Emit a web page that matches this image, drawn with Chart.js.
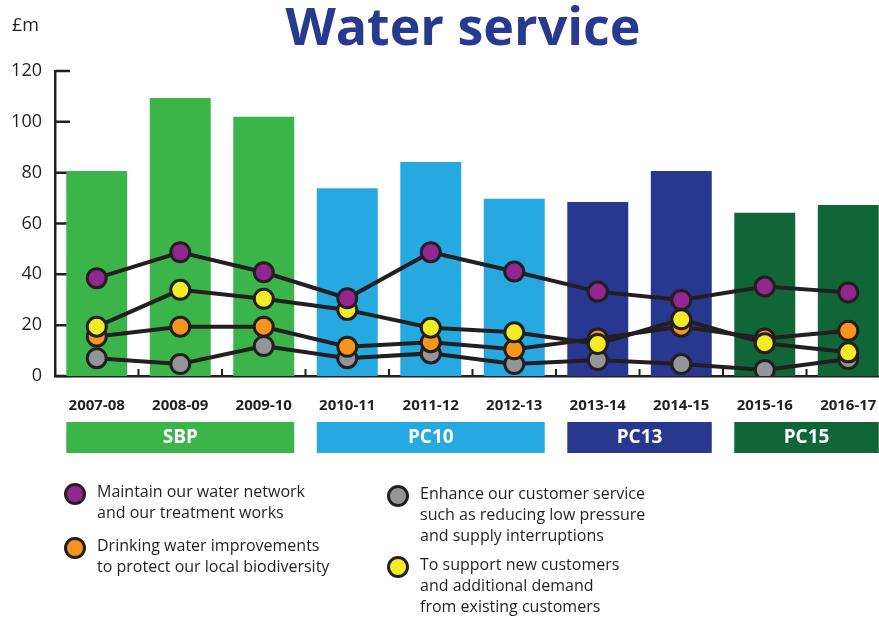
<!DOCTYPE html>
<html>
<head>
<meta charset="utf-8">
<title>Water service</title>
<script src="https://cdn.jsdelivr.net/npm/chart.js@4.4.1/dist/chart.umd.min.js"></script>
<style>
  html, body { margin: 0; padding: 0; background: #fff; overflow: hidden; }
  #wrap { position: relative; width: 879px; height: 618px; overflow: hidden; font-family: "Open Sans", sans-serif; color: #231f20; }
  #chart { position: absolute; left: 0; top: 0; }
  .title { position: absolute; left: 0; top: -1px; width: 926px; text-align: center; font-size: 52px; line-height: 52px; font-weight: 700; color: #273a8f; }
  .unit { position: absolute; left: 12px; top: 15px; font-size: 18px; line-height: 18px; }
  .key { position: absolute; font-size: 16px; line-height: 21px; white-space: nowrap; }
  .dot { position: absolute; width: 22px; height: 22px; box-sizing: border-box; border: 3.5px solid #231f20; border-radius: 50%; }
</style>
</head>
<body>
<div id="wrap">
  <canvas id="chart" width="879" height="618"></canvas>
  <div class="title">Water service</div>
  <div class="unit">£m</div>
  <div id="legend"></div>
</div>
<script>
// Spend per year, £m
const years = ['2007-08', '2008-09', '2009-10', '2010-11', '2011-12', '2012-13', '2013-14', '2014-15', '2015-16', '2016-17'];
const totalSpend = [80.7, 109.4, 102, 73.9, 84.2, 69.7, 68.5, 80.7, 64.2, 67.3];

const maintainNetwork = [38.5, 48.7, 40.8, 30.6, 48.7, 41.1, 33.2, 29.9, 35.2, 32.9];
const drinkingWater = [15.5, 19.4, 19.4, 11.5, 13.3, 10.5, 14.8, 19.4, 14.8, 17.8];
const customerService = [7.0, 4.7, 11.8, 7.0, 8.9, 4.7, 6.3, 4.7, 2.4, 6.7];
const newCustomers = [19.4, 33.9, 30.4, 26.0, 19.0, 17.2, 12.6, 22.3, 12.9, 9.3];

// Regulatory periods
const periodNames = ['SBP', 'PC10', 'PC13', 'PC15'];
const periodColors = ['#3bb54a', '#25a9e0', '#283891', '#106637'];
const periodOfYear = [0, 0, 0, 1, 1, 1, 2, 2, 3, 3];

const yTicks = [0, 20, 40, 60, 80, 100, 120];

const series = [
  { name: ['Maintain our water network', 'and our treatment works'], data: maintainNetwork, color: '#92278f', key: [75, 494] },
  { name: ['Drinking water improvements', 'to protect our local biodiversity'], data: drinkingWater, color: '#f7941d', key: [75, 548] },
  { name: ['Enhance our customer service', 'such as reducing low pressure', 'and supply interruptions'], data: customerService, color: '#939598', key: [398, 496] },
  { name: ['To support new customers', 'and additional demand', 'from existing customers'], data: newCustomers, color: '#f4eb27', key: [398, 567] }
];
// purple on top, then yellow, orange, grey
const drawOrder = [0, 2, 3, 1];

const ink = '#231f20';

// year index axis; the last column runs off the right edge a little
const xMin = -0.5;
const xMax = years.length - 0.632;

// short ticks on the axes, pointing into the plot
const axisTicks = {
  id: 'axisTicks',
  beforeDatasetsDraw(chart) {
    const { ctx, chartArea, scales: { x, y } } = chart;
    ctx.save();
    ctx.strokeStyle = ink;
    ctx.lineWidth = 2.5;
    ctx.beginPath();
    yTicks.forEach(v => {
      const py = y.getPixelForValue(v);
      ctx.moveTo(chartArea.left, py);
      ctx.lineTo(chartArea.left + 15, py);
    });
    ctx.stroke();
    ctx.lineWidth = 2;
    ctx.beginPath();
    for (let i = 1; i < years.length; i++) {
      const px = x.getPixelForValue(i - 0.5);
      ctx.moveTo(px, chartArea.bottom);
      ctx.lineTo(px, chartArea.bottom - 7);
    }
    ctx.stroke();
    ctx.restore();
  }
};

// coloured period boxes under the year labels
const periodBands = {
  id: 'periodBands',
  afterDraw(chart) {
    const { ctx } = chart;
    const bars = chart.getDatasetMeta(0).data;
    ctx.save();
    periodNames.forEach((name, p) => {
      const first = periodOfYear.indexOf(p);
      const last = periodOfYear.lastIndexOf(p);
      const left = bars[first].x - bars[first].width / 2;
      const right = bars[last].x + bars[last].width / 2;
      ctx.fillStyle = periodColors[p];
      ctx.fillRect(left, 422, right - left, 31);
      ctx.fillStyle = '#fff';
      ctx.font = 'bold 19px "Open Sans"';
      ctx.textAlign = 'center';
      ctx.textBaseline = 'middle';
      ctx.fillText(name, (left + right) / 2, 438);
    });
    ctx.restore();
  }
};

const datasets = [{
  type: 'bar',
  data: totalSpend,
  backgroundColor: periodOfYear.map(p => periodColors[p]),
  barPercentage: 0.73,
  categoryPercentage: 1,
  order: 10
}];
series.forEach((s, i) => {
  datasets.push({
    type: 'line',
    data: s.data,
    borderColor: ink,
    borderWidth: 4,
    pointRadius: 9.5,
    pointBorderWidth: 3,
    pointBackgroundColor: s.color,
    pointBorderColor: ink,
    tension: 0,
    order: drawOrder[i]
  });
});

new Chart(document.getElementById('chart'), {
  data: { labels: years.map((_, i) => i), datasets },
  options: {
    responsive: false,
    animation: false,
    layout: { autoPadding: false, padding: { top: 71, left: 0, right: 0, bottom: 0 } },
    plugins: { legend: { display: false }, tooltip: { enabled: false } },
    scales: {
      x: {
        type: 'linear',
        min: xMin,
        max: xMax,
        offset: false,
        grid: { display: false, drawTicks: false },
        border: { display: true, color: ink, width: 2.5 },
        ticks: {
          stepSize: 1,
          includeBounds: false,
          autoSkip: false,
          maxRotation: 0,
          padding: 21,
          color: ink,
          font: { family: 'Open Sans', size: 15, weight: 'bold' },
          callback: v => years[v] || ''
        },
        afterFit: scale => {
          scale.height = 242;
          scale.paddingLeft = 0;
          scale.paddingRight = 0;
        }
      },
      y: {
        min: 0,
        max: 120,
        grid: { display: false, drawTicks: false },
        border: { display: true, color: ink, width: 2.5 },
        ticks: { stepSize: 20, color: ink, font: { family: 'Open Sans', size: 18 }, padding: 13 },
        afterFit: scale => { scale.width = 55; }
      }
    }
  },
  plugins: [axisTicks, periodBands]
});

// legend
const legend = document.getElementById('legend');
series.forEach(s => {
  const dot = document.createElement('div');
  dot.className = 'dot';
  dot.style.left = (s.key[0] - 11) + 'px';
  dot.style.top = (s.key[1] - 11) + 'px';
  dot.style.background = s.color;
  legend.appendChild(dot);
  const txt = document.createElement('div');
  txt.className = 'key';
  txt.style.left = (s.key[0] + 22) + 'px';
  txt.style.top = (s.key[1] - 13) + 'px';
  txt.innerHTML = s.name.join('<br>');
  legend.appendChild(txt);
});
</script>
</body>
</html>
